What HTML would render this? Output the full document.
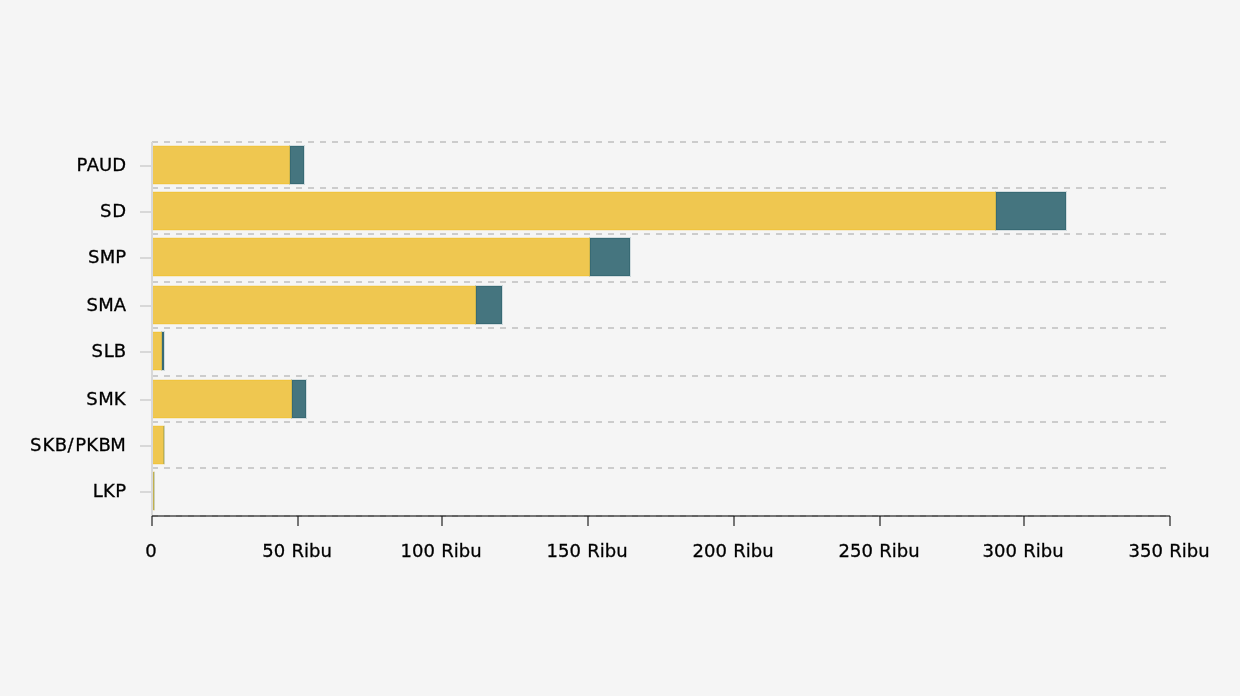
<!DOCTYPE html>
<html lang="id">
<head>
<meta charset="utf-8">
<title>Chart</title>
<style>
html,body{margin:0;padding:0;background:#f5f5f5;}
body{width:1240px;height:696px;overflow:hidden;position:relative;}
svg{position:absolute;left:0;top:0;display:block;}
text{font-family:"DejaVu Sans","Liberation Sans",sans-serif;font-size:18px;fill:#000;}
</style>
</head>
<body>
<svg width="1240" height="696" viewBox="0 0 1240 696">
<rect width="1240" height="696" fill="#f5f5f5"/>

<g stroke="#cccccc" stroke-width="2" stroke-dasharray="6 6" shape-rendering="crispEdges">
<line x1="152" y1="142" x2="1166" y2="142"/>
<line x1="152" y1="188" x2="1166" y2="188"/>
<line x1="152" y1="234" x2="1166" y2="234"/>
<line x1="152" y1="282" x2="1166" y2="282"/>
<line x1="152" y1="328" x2="1166" y2="328"/>
<line x1="152" y1="376" x2="1166" y2="376"/>
<line x1="152" y1="422" x2="1166" y2="422"/>
<line x1="152" y1="468" x2="1166" y2="468"/>
</g>
<g fill="#d8d8d8" shape-rendering="crispEdges">
<rect x="151" y="142" width="2" height="374"/>
<rect x="140" y="165" width="11" height="2"/>
<rect x="140" y="211" width="11" height="2"/>
<rect x="140" y="257" width="11" height="2"/>
<rect x="140" y="305" width="11" height="2"/>
<rect x="140" y="351" width="11" height="2"/>
<rect x="140" y="399" width="11" height="2"/>
<rect x="140" y="445" width="11" height="2"/>
<rect x="140" y="491" width="11" height="2"/>
</g>
<g shape-rendering="crispEdges">
<rect x="153" y="145" width="137" height="1" fill="#f4eacc"/>
<rect x="153" y="184" width="137" height="1" fill="#f4eacc"/>
<rect x="153" y="146" width="137" height="38" fill="#f0c43e"/>
<rect x="153" y="147" width="136" height="36" fill="#efc750"/>
<rect x="289" y="146" width="1" height="38" fill="#d2b84b"/>
<rect x="289" y="145" width="1" height="1" fill="#c9cdb8"/>
<rect x="289" y="184" width="1" height="1" fill="#c9cdb8"/>
<rect x="290" y="145" width="14" height="1" fill="#d2dcdf"/>
<rect x="290" y="184" width="14" height="1" fill="#d2dcdf"/>
<rect x="304" y="146" width="1" height="38" fill="#d2dcdf"/>
<rect x="304" y="145" width="1" height="1" fill="#ccd7da"/>
<rect x="304" y="184" width="1" height="1" fill="#ccd7da"/>
<rect x="290" y="146" width="14" height="38" fill="#386a74"/>
<rect x="291" y="147" width="12" height="36" fill="#45757f"/>
<rect x="153" y="191" width="843" height="1" fill="#f4eacc"/>
<rect x="153" y="230" width="843" height="1" fill="#f4eacc"/>
<rect x="153" y="192" width="843" height="38" fill="#f0c43e"/>
<rect x="153" y="193" width="842" height="36" fill="#efc750"/>
<rect x="995" y="192" width="1" height="38" fill="#d2b84b"/>
<rect x="995" y="191" width="1" height="1" fill="#c9cdb8"/>
<rect x="995" y="230" width="1" height="1" fill="#c9cdb8"/>
<rect x="996" y="191" width="70" height="1" fill="#d2dcdf"/>
<rect x="996" y="230" width="70" height="1" fill="#d2dcdf"/>
<rect x="1066" y="192" width="1" height="38" fill="#d2dcdf"/>
<rect x="1066" y="191" width="1" height="1" fill="#ccd7da"/>
<rect x="1066" y="230" width="1" height="1" fill="#ccd7da"/>
<rect x="996" y="192" width="70" height="38" fill="#386a74"/>
<rect x="997" y="193" width="68" height="36" fill="#45757f"/>
<rect x="153" y="237" width="437" height="1" fill="#f4eacc"/>
<rect x="153" y="276" width="437" height="1" fill="#f4eacc"/>
<rect x="153" y="238" width="437" height="38" fill="#f0c43e"/>
<rect x="153" y="239" width="436" height="36" fill="#efc750"/>
<rect x="589" y="238" width="1" height="38" fill="#d2b84b"/>
<rect x="589" y="237" width="1" height="1" fill="#c9cdb8"/>
<rect x="589" y="276" width="1" height="1" fill="#c9cdb8"/>
<rect x="590" y="237" width="40" height="1" fill="#d2dcdf"/>
<rect x="590" y="276" width="40" height="1" fill="#d2dcdf"/>
<rect x="630" y="238" width="1" height="38" fill="#d2dcdf"/>
<rect x="630" y="237" width="1" height="1" fill="#ccd7da"/>
<rect x="630" y="276" width="1" height="1" fill="#ccd7da"/>
<rect x="590" y="238" width="40" height="38" fill="#386a74"/>
<rect x="591" y="239" width="38" height="36" fill="#45757f"/>
<rect x="153" y="285" width="323" height="1" fill="#f4eacc"/>
<rect x="153" y="324" width="323" height="1" fill="#f4eacc"/>
<rect x="153" y="286" width="323" height="38" fill="#f0c43e"/>
<rect x="153" y="287" width="322" height="36" fill="#efc750"/>
<rect x="475" y="286" width="1" height="38" fill="#d2b84b"/>
<rect x="475" y="285" width="1" height="1" fill="#c9cdb8"/>
<rect x="475" y="324" width="1" height="1" fill="#c9cdb8"/>
<rect x="476" y="285" width="26" height="1" fill="#d2dcdf"/>
<rect x="476" y="324" width="26" height="1" fill="#d2dcdf"/>
<rect x="502" y="286" width="1" height="38" fill="#d2dcdf"/>
<rect x="502" y="285" width="1" height="1" fill="#ccd7da"/>
<rect x="502" y="324" width="1" height="1" fill="#ccd7da"/>
<rect x="476" y="286" width="26" height="38" fill="#386a74"/>
<rect x="477" y="287" width="24" height="36" fill="#45757f"/>
<rect x="153" y="331" width="9" height="1" fill="#f4eacc"/>
<rect x="153" y="370" width="9" height="1" fill="#f4eacc"/>
<rect x="153" y="332" width="9" height="38" fill="#f0c43e"/>
<rect x="153" y="333" width="8" height="36" fill="#efc750"/>
<rect x="161" y="332" width="1" height="38" fill="#d2b84b"/>
<rect x="161" y="331" width="1" height="1" fill="#c9cdb8"/>
<rect x="161" y="370" width="1" height="1" fill="#c9cdb8"/>
<rect x="162" y="331" width="2" height="1" fill="#d2dcdf"/>
<rect x="162" y="370" width="2" height="1" fill="#d2dcdf"/>
<rect x="164" y="332" width="1" height="38" fill="#d2dcdf"/>
<rect x="164" y="331" width="1" height="1" fill="#ccd7da"/>
<rect x="164" y="370" width="1" height="1" fill="#ccd7da"/>
<rect x="162" y="332" width="2" height="38" fill="#386a74"/>
<rect x="153" y="379" width="139" height="1" fill="#f4eacc"/>
<rect x="153" y="418" width="139" height="1" fill="#f4eacc"/>
<rect x="153" y="380" width="139" height="38" fill="#f0c43e"/>
<rect x="153" y="381" width="138" height="36" fill="#efc750"/>
<rect x="291" y="380" width="1" height="38" fill="#d2b84b"/>
<rect x="291" y="379" width="1" height="1" fill="#c9cdb8"/>
<rect x="291" y="418" width="1" height="1" fill="#c9cdb8"/>
<rect x="292" y="379" width="14" height="1" fill="#d2dcdf"/>
<rect x="292" y="418" width="14" height="1" fill="#d2dcdf"/>
<rect x="306" y="380" width="1" height="38" fill="#d2dcdf"/>
<rect x="306" y="379" width="1" height="1" fill="#ccd7da"/>
<rect x="306" y="418" width="1" height="1" fill="#ccd7da"/>
<rect x="292" y="380" width="14" height="38" fill="#386a74"/>
<rect x="293" y="381" width="12" height="36" fill="#45757f"/>
<rect x="153" y="425" width="12" height="1" fill="#f4eacc"/>
<rect x="153" y="464" width="12" height="1" fill="#f4eacc"/>
<rect x="153" y="426" width="11" height="38" fill="#f0c43e"/>
<rect x="153" y="427" width="10" height="36" fill="#efc750"/>
<rect x="163" y="426" width="1" height="38" fill="#c3b04b"/>
<rect x="164" y="426" width="1" height="38" fill="#c9d0bb"/>
<rect x="153" y="471" width="2" height="1" fill="#f4eacc"/>
<rect x="153" y="510" width="2" height="1" fill="#f4eacc"/>
<rect x="153" y="472" width="1" height="38" fill="#f0c43e"/>
<rect x="153" y="472" width="1" height="38" fill="#c3b04b"/>
<rect x="154" y="472" width="1" height="38" fill="#c9d0bb"/>
</g>
<g shape-rendering="crispEdges">
<rect x="152" y="515" width="1018" height="2" fill="#767676"/>
<rect x="151" y="516" width="1" height="1" fill="#767676"/>
<rect x="1170" y="516" width="1" height="1" fill="#767676"/>
<g fill="#646464">
<rect x="152" y="515" width="6" height="2"/>
<rect x="164" y="515" width="6" height="2"/>
<rect x="176" y="515" width="6" height="2"/>
<rect x="188" y="515" width="6" height="2"/>
<rect x="200" y="515" width="6" height="2"/>
<rect x="212" y="515" width="6" height="2"/>
<rect x="224" y="515" width="6" height="2"/>
<rect x="236" y="515" width="6" height="2"/>
<rect x="248" y="515" width="6" height="2"/>
<rect x="260" y="515" width="6" height="2"/>
<rect x="272" y="515" width="6" height="2"/>
<rect x="284" y="515" width="6" height="2"/>
<rect x="296" y="515" width="6" height="2"/>
<rect x="308" y="515" width="6" height="2"/>
<rect x="320" y="515" width="6" height="2"/>
<rect x="332" y="515" width="6" height="2"/>
<rect x="344" y="515" width="6" height="2"/>
<rect x="356" y="515" width="6" height="2"/>
<rect x="368" y="515" width="6" height="2"/>
<rect x="380" y="515" width="6" height="2"/>
<rect x="392" y="515" width="6" height="2"/>
<rect x="404" y="515" width="6" height="2"/>
<rect x="416" y="515" width="6" height="2"/>
<rect x="428" y="515" width="6" height="2"/>
<rect x="440" y="515" width="6" height="2"/>
<rect x="452" y="515" width="6" height="2"/>
<rect x="464" y="515" width="6" height="2"/>
<rect x="476" y="515" width="6" height="2"/>
<rect x="488" y="515" width="6" height="2"/>
<rect x="500" y="515" width="6" height="2"/>
<rect x="512" y="515" width="6" height="2"/>
<rect x="524" y="515" width="6" height="2"/>
<rect x="536" y="515" width="6" height="2"/>
<rect x="548" y="515" width="6" height="2"/>
<rect x="560" y="515" width="6" height="2"/>
<rect x="572" y="515" width="6" height="2"/>
<rect x="584" y="515" width="6" height="2"/>
<rect x="596" y="515" width="6" height="2"/>
<rect x="608" y="515" width="6" height="2"/>
<rect x="620" y="515" width="6" height="2"/>
<rect x="632" y="515" width="6" height="2"/>
<rect x="644" y="515" width="6" height="2"/>
<rect x="656" y="515" width="6" height="2"/>
<rect x="668" y="515" width="6" height="2"/>
<rect x="680" y="515" width="6" height="2"/>
<rect x="692" y="515" width="6" height="2"/>
<rect x="704" y="515" width="6" height="2"/>
<rect x="716" y="515" width="6" height="2"/>
<rect x="728" y="515" width="6" height="2"/>
<rect x="740" y="515" width="6" height="2"/>
<rect x="752" y="515" width="6" height="2"/>
<rect x="764" y="515" width="6" height="2"/>
<rect x="776" y="515" width="6" height="2"/>
<rect x="788" y="515" width="6" height="2"/>
<rect x="800" y="515" width="6" height="2"/>
<rect x="812" y="515" width="6" height="2"/>
<rect x="824" y="515" width="6" height="2"/>
<rect x="836" y="515" width="6" height="2"/>
<rect x="848" y="515" width="6" height="2"/>
<rect x="860" y="515" width="6" height="2"/>
<rect x="872" y="515" width="6" height="2"/>
<rect x="884" y="515" width="6" height="2"/>
<rect x="896" y="515" width="6" height="2"/>
<rect x="908" y="515" width="6" height="2"/>
<rect x="920" y="515" width="6" height="2"/>
<rect x="932" y="515" width="6" height="2"/>
<rect x="944" y="515" width="6" height="2"/>
<rect x="956" y="515" width="6" height="2"/>
<rect x="968" y="515" width="6" height="2"/>
<rect x="980" y="515" width="6" height="2"/>
<rect x="992" y="515" width="6" height="2"/>
<rect x="1004" y="515" width="6" height="2"/>
<rect x="1016" y="515" width="6" height="2"/>
<rect x="1028" y="515" width="6" height="2"/>
<rect x="1040" y="515" width="6" height="2"/>
<rect x="1052" y="515" width="6" height="2"/>
<rect x="1064" y="515" width="6" height="2"/>
<rect x="1076" y="515" width="6" height="2"/>
<rect x="1088" y="515" width="6" height="2"/>
<rect x="1100" y="515" width="6" height="2"/>
<rect x="1112" y="515" width="6" height="2"/>
<rect x="1124" y="515" width="6" height="2"/>
<rect x="1136" y="515" width="6" height="2"/>
<rect x="1148" y="515" width="6" height="2"/>
<rect x="1160" y="515" width="6" height="2"/>
</g>
<rect x="151" y="517" width="2" height="9" fill="#767676"/>
<rect x="152" y="516" width="1" height="1" fill="#393939"/>
<rect x="297" y="517" width="2" height="9" fill="#767676"/>
<rect x="297" y="516" width="2" height="1" fill="#393939"/>
<rect x="441" y="517" width="2" height="9" fill="#767676"/>
<rect x="441" y="516" width="2" height="1" fill="#393939"/>
<rect x="587" y="517" width="2" height="9" fill="#767676"/>
<rect x="587" y="516" width="2" height="1" fill="#393939"/>
<rect x="733" y="517" width="2" height="9" fill="#767676"/>
<rect x="733" y="516" width="2" height="1" fill="#393939"/>
<rect x="879" y="517" width="2" height="9" fill="#767676"/>
<rect x="879" y="516" width="2" height="1" fill="#393939"/>
<rect x="1023" y="517" width="2" height="9" fill="#767676"/>
<rect x="1023" y="516" width="2" height="1" fill="#393939"/>
<rect x="1169" y="517" width="2" height="9" fill="#767676"/>
<rect x="1169" y="516" width="1" height="1" fill="#393939"/>
</g>
<g class="yl" stroke="#000" stroke-width="0.3">
<text x="76.40 86.65 98.96 112.14" y="170.9">PAUD</text>
<text x="100.06 112.13" y="216.9">SD</text>
<text x="87.91 99.80 115.15" y="262.9">SMP</text>
<text x="86.46 98.34 113.69" y="310.9">SMA</text>
<text x="91.57 103.64 113.66" y="356.9">SLB</text>
<text x="86.29 98.18 113.86" y="404.9">SMK</text>
<text x="29.92 42.52 54.86 67.55 75.17 86.35 98.59 110.25" y="450.9">SKB/PKBM</text>
<text x="92.66 103.01 115.15" y="496.9">LKP</text>
</g>
<g class="xl" text-anchor="middle" stroke="#000" stroke-width="0.3" style="word-spacing:0.7px">
<text x="151.1" y="556.9">0</text>
<text x="297.1" y="556.9">50 Ribu</text>
<text x="441.1" y="556.9">100 Ribu</text>
<text x="587.1" y="556.9">150 Ribu</text>
<text x="733.1" y="556.9">200 Ribu</text>
<text x="879.1" y="556.9">250 Ribu</text>
<text x="1023.1" y="556.9">300 Ribu</text>
<text x="1169.1" y="556.9">350 Ribu</text>
</g>
</svg>
</body>
</html>
